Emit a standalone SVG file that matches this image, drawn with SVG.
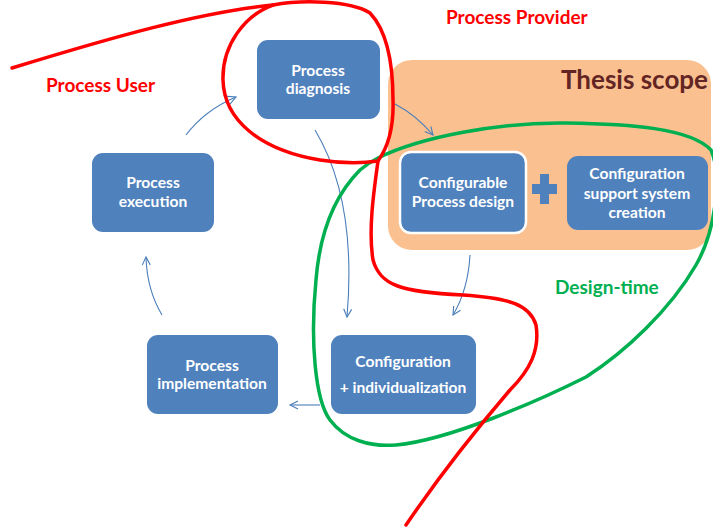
<svg xmlns="http://www.w3.org/2000/svg" width="713" height="529" viewBox="0 0 713 529">
<style>
.node rect{fill:#4F81BD;}
.node text{fill:#FFFFFF;font-family:Lato,"Open Sans","Liberation Sans",sans-serif;font-weight:bold;font-size:15.6px;text-anchor:middle;}
.conn path{fill:none;stroke:#4A7EBB;stroke-width:1.1;marker-end:url(#arr);}
.lbl{font-family:Lato,"Open Sans","Liberation Sans",sans-serif;font-weight:bold;}
.red{fill:none;stroke:#FF0000;stroke-width:3.5;stroke-linecap:round;stroke-linejoin:round;}
.green{fill:none;stroke:#00B050;stroke-width:3.5;}
</style>
<defs>
<marker id="arr" markerUnits="userSpaceOnUse" markerWidth="12" markerHeight="12" refX="9" refY="5" orient="auto">
<path d="M1,1 L9,5 L1,9" fill="none" stroke="#4A7EBB" stroke-width="1.1"/>
</marker>
</defs>
<rect width="713" height="529" fill="#FFFFFF"/>
<g id="thesis-scope">
<rect x="388" y="60" width="323" height="190" rx="24" fill="#FAC090"/>
<text class="lbl" x="708" y="89" font-size="26" fill="#632523" text-anchor="end">Thesis scope</text>
</g>
<g id="connectors" class="conn">
<path d="M186,135 Q205,110 236,97"/>
<path d="M315,130 Q357,200 347,317"/>
<path d="M395,104 Q416,115 433,135"/>
<path d="M470,255 Q468,290 453,315"/>
<path d="M320,405 L290,405"/>
<path d="M162,315 Q147,290 146,257"/>
</g>
<g id="process-diagnosis" class="node">
<rect x="257" y="40" width="123" height="79" rx="11"/>
<text x="318" y="76">Process</text>
<text x="318" y="94">diagnosis</text>
</g>
<g id="process-execution" class="node">
<rect x="92" y="153" width="122" height="79" rx="11"/>
<text x="153" y="188">Process</text>
<text x="153" y="207">execution</text>
</g>
<g id="process-implementation" class="node">
<rect x="147" y="335" width="131" height="79" rx="11"/>
<text x="212" y="371">Process</text>
<text x="212" y="389">implementation</text>
</g>
<g id="configuration-individualization" class="node">
<rect x="331" y="335" width="145" height="79" rx="11"/>
<text x="403" y="367">Configuration</text>
<text x="403" y="393">+ individualization</text>
</g>
<g id="configurable-process-design" class="node">
<rect x="400" y="152" width="126" height="81" rx="11" stroke="#FFFFFF" stroke-width="2.5"/>
<text x="463" y="188">Configurable</text>
<text x="463" y="207">Process design</text>
</g>
<g id="plus">
<rect x="532" y="184" width="25" height="10" fill="#4F81BD"/>
<rect x="540" y="174" width="9" height="30" fill="#4F81BD"/>
</g>
<g id="configuration-support" class="node">
<rect x="567" y="156" width="141" height="74" rx="11"/>
<text x="637" y="179">Configuration</text>
<text x="637" y="199">support system</text>
<text x="637" y="218">creation</text>
</g>
<g id="design-time">
<path class="green" d="M378,158 C420,137 500,122 566,123 C630,124 690,128 711,150 C722,175 716,230 696,265 C670,310 625,352 586,377 C540,400 450,440 396,445 C370,447 345,440 330,420 C315,400 310,340 316,280 C320,230 335,195 360,170 C366,165 372,161 378,158 Z"/>
<text class="lbl" x="555" y="294" font-size="19" fill="#00B050">Design-time</text>
</g>
<g id="process-boundary">
<path class="red" d="M12,68 C110,38 200,12 273,5"/>
<path class="red" d="M378,161 C386,150 394,130 393,100 C393,60 386,30 370,13 C350,0 300,0 273,5 C245,15 222,45 223,80 C224,120 260,150 320,160 C345,164 365,163 378,161"/>
<path class="red" d="M378,161 C374,190 368,230 373,260 C380,285 400,292 463,295 C510,298 530,305 536,325 C540,350 530,370 510,390 C480,425 440,475 406,525"/>
<text class="lbl" x="46" y="92" font-size="19" fill="#FF0000">Process User</text>
<text class="lbl" x="446" y="24" font-size="19" fill="#FF0000">Process Provider</text>
</g>
</svg>
